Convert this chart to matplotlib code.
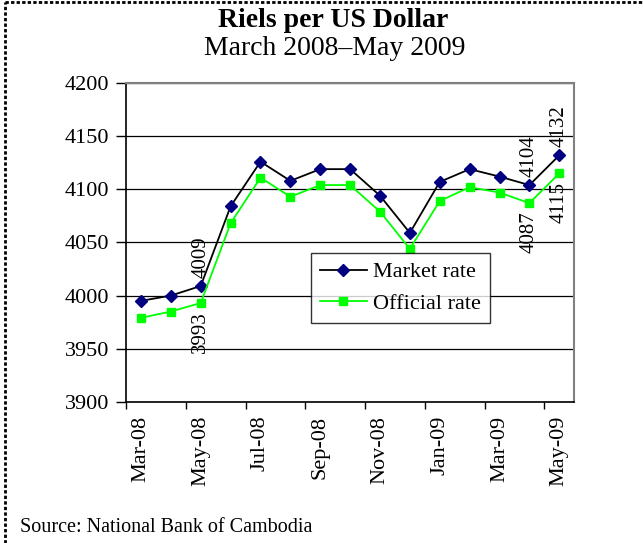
import matplotlib.pyplot as plt
import numpy as np

plt.rcParams['font.family'] = 'Liberation Serif'

months = ['Mar-08', 'Apr-08', 'May-08', 'Jun-08', 'Jul-08', 'Aug-08', 'Sep-08',
          'Oct-08', 'Nov-08', 'Dec-08', 'Jan-09', 'Feb-09', 'Mar-09', 'Apr-09', 'May-09']
market = [3995, 4000, 4009, 4084, 4126, 4108, 4119, 4119, 4094, 4059, 4107, 4119, 4112, 4104, 4132]
official = [3979, 3985, 3993, 4068, 4111, 4093, 4104, 4104, 4079, 4044, 4089, 4102, 4097, 4087, 4115]
labelled = [2, 13, 14]

fig = plt.figure(figsize=(6.43, 5.43), dpi=100)
ax = fig.add_axes([0.196, 0.260, 0.697, 0.587])

x = np.arange(len(months))
ax.plot(x, market, color='black', lw=1.3, marker='D', ms=6, mfc='#000080', mec='#000080',
        label='Market rate', zorder=3)
ax.plot(x, official, color='#00ff00', lw=1.3, marker='s', ms=6, mfc='#00ff00', mec='#00ff00',
        label='Official rate', zorder=3)

for i in labelled:
    ax.annotate(str(market[i]), (x[i], market[i]), xytext=(0, 6), textcoords='offset points',
                rotation=90, ha='center', va='bottom', fontsize=15)
    ax.annotate(str(official[i]), (x[i], official[i]), xytext=(0, -6), textcoords='offset points',
                rotation=90, ha='center', va='top', fontsize=15)

ax.set_xlim(-0.5, len(months) - 0.5)
ax.set_ylim(3900, 4200)
ax.set_yticks(np.arange(3900, 4201, 50))
ax.yaxis.grid(True, color='black', lw=0.9)
ax.set_axisbelow(True)
ax.tick_params(axis='y', labelsize=16, length=7, direction='out', width=1, pad=5)
ax.set_xticks(np.arange(-0.5, len(months) - 1, 2))
ax.set_xticklabels([])
ax.set_xticks(x[::2], minor=True)
ax.set_xticklabels(months[::2], minor=True, rotation=90, fontsize=16)
ax.tick_params(axis='x', which='major', length=5, width=1, direction='out')
ax.tick_params(axis='x', which='minor', length=0, pad=10)

for s in ['top', 'right']:
    ax.spines[s].set_color('#808080')
    ax.spines[s].set_linewidth(1.5)
for s in ['left', 'bottom']:
    ax.spines[s].set_linewidth(1.2)

leg = ax.legend(loc='upper left', bbox_to_anchor=(0.413, 0.467), borderaxespad=0, fontsize=16,
                frameon=True, fancybox=False, edgecolor='black', handlelength=2.1,
                borderpad=0.4, labelspacing=0.5, handletextpad=0.3)
leg.get_frame().set_linewidth(1.0)

fig.text(0.518, 0.950, 'Riels per US Dollar', ha='center', va='baseline', fontsize=20, fontweight='bold')
fig.text(0.521, 0.899, 'March 2008\u2013May 2009', ha='center', va='baseline', fontsize=20)
fig.text(0.031, 0.029, 'Source: National Bank of Cambodia', ha='left', va='center', fontsize=14.5)

# dashed frame on left and top edge
fig.add_artist(plt.Line2D([0.008, 0.008], [0, 0.996], color='black', lw=2, ls=(0, (1.2, 0.8))))
fig.add_artist(plt.Line2D([0.008, 1], [0.996, 0.996], color='black', lw=2, ls=(0, (1.2, 0.8))))

fig.savefig('out.png', dpi=100)
